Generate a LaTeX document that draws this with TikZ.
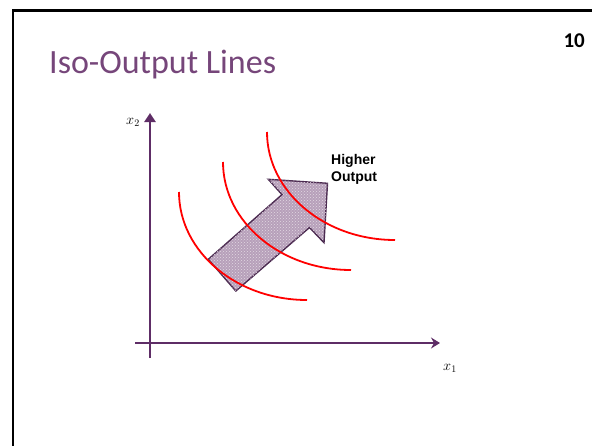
\documentclass[tikz,border=0pt]{standalone}
\usepackage{fontspec}
\setmainfont{Carlito}
\newfontfamily\arialfont{Liberation Sans}
\usetikzlibrary{arrows.meta,patterns}

\definecolor{titlepurple}{HTML}{76467A}
\definecolor{axispurple}{HTML}{5E2D66}
\definecolor{arrowedge}{HTML}{4B2A50}
\definecolor{arrowfill}{HTML}{B7A0BA}

\tikzset{
  axis/.style={axispurple, line width=2.6pt},
  isoline/.style={red, line width=1.8pt},
  axislabel/.style={inner sep=0pt, font=\fontsize{14}{16}\selectfont},
}

\begin{document}
\begin{tikzpicture}[x=1pt,y=-1pt]
\useasboundingbox (0,0) rectangle (592,445);

% slide frame
\draw[line width=2.5pt] (13,446) -- (13,10.5) -- (593,10.5);

\node[anchor=base west, inner sep=0pt, text=titlepurple,
      font=\fontsize{34}{40}\selectfont] (title) at (49,73) {Iso-Output Lines};
\node[anchor=base east, inner sep=0pt,
      font=\bfseries\fontsize{21}{24}\selectfont] (pagenum) at (585,47) {10};

% axes
\coordinate (ybot) at (150,358);
\coordinate (ytop) at (150,113);
\coordinate (xleft) at (135,343);
\coordinate (xright) at (440,343);
\draw[axis,-{Triangle[width=11pt,length=9pt]}] (ybot) -- (ytop);
\draw[axis,-{Stealth[width=11pt,length=9pt,inset=3pt]}] (xleft) -- (xright);
\node[axislabel] (xtwo) at (133,122) {$x_2$};
\node[axislabel] (xone) at (450,368) {$x_1$};

% block arrow
\draw[arrowedge, line width=1.4pt, line join=miter, fill=arrowfill,
      postaction={pattern=crosshatch dots, pattern color=white!60!arrowfill}]
  (208.3,259.3) -- (235.8,291) -- (309.5,227.5) -- (324,242.7)
  -- (327.5,183.3) -- (268.3,179.3) -- (282,194.6) -- cycle;

% iso-output lines
\foreach \i in {0,1,2}{
  \begin{scope}[shift={(44*\i,-30*\i)}]
    \draw[isoline] (179,192) .. controls (179,251.6) and (236.3,300) .. (307,300);
  \end{scope}
}

\node[anchor=north west, inner sep=0pt, align=left,
      font=\arialfont\bfseries\fontsize{14}{17}\selectfont] (higher) at (331,154) {Higher\\Output};
\end{tikzpicture}
\end{document}
